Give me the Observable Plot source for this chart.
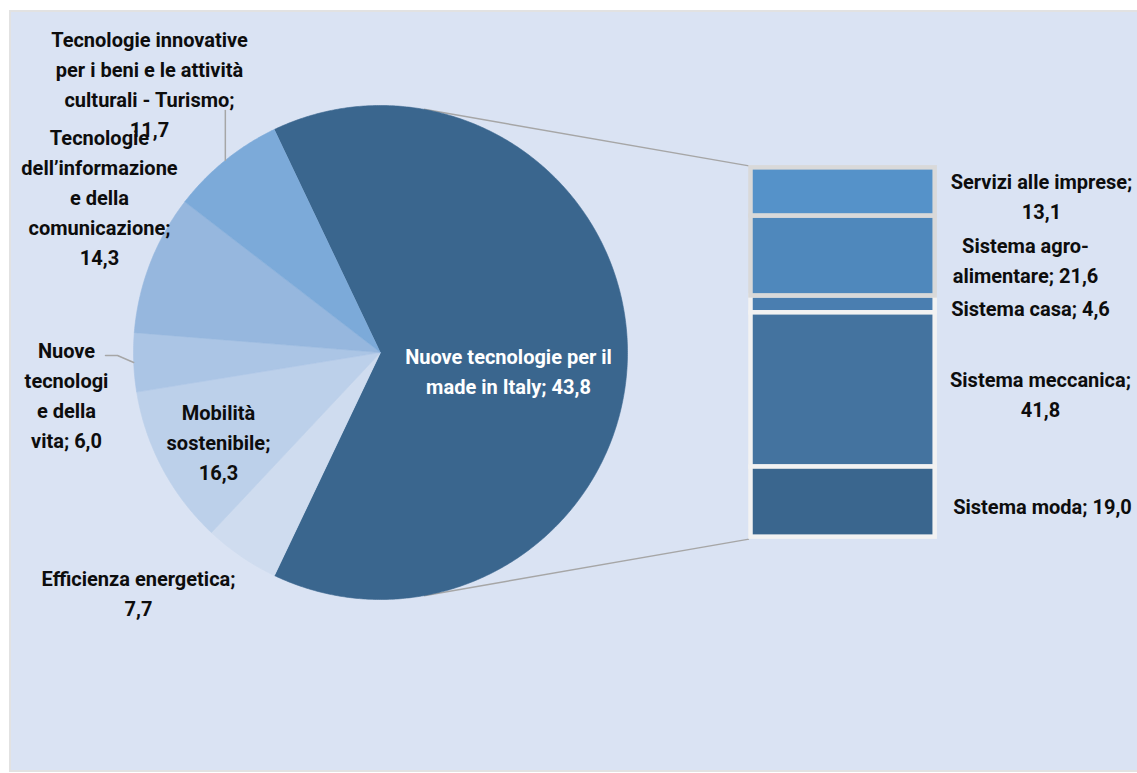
<!DOCTYPE html>
<html>
<head>
<meta charset="utf-8">
<script src="https://cdn.jsdelivr.net/npm/d3@7"></script>
<script src="https://cdn.jsdelivr.net/npm/@observablehq/plot@0.6"></script>
<style>
  html, body { margin: 0; padding: 0; background: #ffffff; }
  #wrap { position: relative; width: 1137px; height: 773px; overflow: hidden; }
  #panel { position: absolute; left: 9px; top: 10px; width: 1130px; height: 762px; background: #dae3f3;
           border-left: 2px solid #e2e2e2; border-top: 2px solid #e2e2e2; border-bottom: 2px solid #e2e2e2; box-sizing: border-box; }
  #chart { position: absolute; left: 0; top: 0; }
  #chart svg { background: transparent; }
</style>
</head>
<body>
<div id="wrap"><div id="panel"></div><div id="chart"></div></div>
<script>
// ---------- data ----------
const pieCategories = [
  "Nuove tecnologie per il made in Italy",
  "Efficienza energetica",
  "Mobilità sostenibile",
  "Nuove tecnologie della vita",
  "Tecnologie dell’informazione e della comunicazione",
  "Tecnologie innovative per i beni e le attività culturali - Turismo"
];
const pieValues = [43.8, 7.7, 16.3, 6.0, 14.3, 11.7];
// label text (wrapped as in the original), value appended
const pieLabelWrap = [
  "Nuove tecnologie per il\nmade in Italy; ",
  "Efficienza energetica;\n",
  "Mobilità\nsostenibile;\n",
  "Nuove\ntecnologi\ne della\nvita; ",
  "Tecnologie\ndell’informazione\ne della\ncomunicazione;\n",
  "Tecnologie innovative\nper i beni e le attività\nculturali - Turismo;\n"
];
const barCategories = ["Servizi alle imprese", "Sistema agro-alimentare", "Sistema casa", "Sistema meccanica", "Sistema moda"];
const barValues = [13.1, 21.6, 4.6, 41.8, 19.0];
const barLabelWrap = [
  "Servizi alle imprese;\n",
  "Sistema agro-\nalimentare; ",
  "Sistema casa; ",
  "Sistema meccanica;\n",
  "Sistema moda; "
];

// ---------- styles / layout ----------
const pieColors = ["#3a668e", "#cfdcef", "#bcd0ea", "#abc5e5", "#96b7de", "#7caad9"];
const barColors = ["#5592c9", "#4f88bc", "#4a7eb0", "#44739f", "#3a668e"];
const W = 1137, H = 773;
const R = 247, CX = 380, CY = 352;           // pie radius and centre (px)
const toX = px => (px - CX) / R, toY = py => (CY - py) / R;
const barX1 = 1.5, barX2 = 2.2457, barHalf = 0.7475;  // bar geometry (pie-radius units)
// label anchor positions (px) for the pie labels
const pieLabelPos = [[508, 369], [138, 591], [218, 440], [66, 393], [99, 195], [149, 82]];
const barLabelX = [1041, 1025, 1030, 1040, 1042];
const FONT = "Roboto, 'Noto Sans', sans-serif";
const FS = 20;

const fmt = v => v.toFixed(1).replace(".", ",");

// ---------- pie geometry from data ----------
const barTotal = d3.sum(barValues);
const weights = pieValues.map((v, i) => i === 0 ? barTotal : v);
const total = d3.sum(weights);
let start = 90 - (weights[0] / total * 360) / 2;
const rad = a => a * Math.PI / 180;
const polys = [], mids = [];
pieCategories.forEach((cat, i) => {
  const span = weights[i] / total * 360;
  const n = Math.max(2, Math.ceil(span / 0.5));
  polys.push({cat, x: 0, y: 0});
  for (let k = 0; k <= n; k++) {
    const a = rad(start + span * k / n);
    polys.push({cat, x: Math.sin(a), y: Math.cos(a)});
  }
  mids.push(start + span / 2);
  start += span;
});

// ---------- bar geometry from data ----------
const k = (2 * barHalf) / barTotal;
let acc = 0;
const barRows = barCategories.map((cat, i) => {
  const y1 = barHalf - acc * k;
  acc += barValues[i];
  const y2 = barHalf - acc * k;
  return {cat, i, y1, y2, x1: barX1, x2: barX2,
          label: barLabelWrap[i] + fmt(barValues[i]), lx: toX(barLabelX[i]), ly: (y1 + y2) / 2 - 2 / R};
});

// tangent lines from bar corners to the pie circle
function tangent(px, py, upper) {
  const d = Math.hypot(px, py), phi = Math.atan2(py, px), t = Math.acos(1 / d);
  const a = upper ? phi + t : phi - t;
  return {x: Math.cos(a), y: Math.sin(a)};
}
const tTop = tangent(barX1, barHalf, true), tBot = tangent(barX1, -barHalf, false);
const connectors = [
  {x1: tTop.x, y1: tTop.y, x2: barX1 - 2 / R, y2: barHalf + 2 / R},
  {x1: tBot.x, y1: tBot.y, x2: barX1 - 2 / R, y2: -barHalf - 2 / R}
];

// pie labels
const pieLabels = pieCategories.map((cat, i) => ({
  cat, text: pieLabelWrap[i] + fmt(pieValues[i]),
  x: toX(pieLabelPos[i][0]), y: toY(pieLabelPos[i][1]), white: i === 0
}));

// leader lines (to slice mid-angle on the perimeter)
const pm = i => ({x: Math.sin(rad(mids[i])), y: Math.cos(rad(mids[i]))});
const leaders = [
  {id: "tur", x: pm(5).x, y: toY(110)}, {id: "tur", ...pm(5)},
  {id: "vita", x: toX(105), y: toY(355)}, {id: "vita", x: toX(117), y: toY(355)}, {id: "vita", ...pm(3)}
];

const chart = Plot.plot({
  width: W, height: H,
  margin: 0,
  x: {domain: [toX(0), toX(W)], axis: null},
  y: {domain: [toY(H), toY(0)], axis: null},
  color: {domain: [...pieCategories, ...barCategories], range: [...pieColors, ...barColors]},
  style: {background: "transparent", overflow: "visible"},
  marks: [
    Plot.link(connectors, {x1: "x1", y1: "y1", x2: "x2", y2: "y2", stroke: "#a6a6a6", strokeWidth: 1.5}),
    Plot.line(polys, {x: "x", y: "y", z: "cat", fill: "cat", stroke: "cat", strokeWidth: 0.6, curve: "linear"}),
    Plot.line(leaders, {x: "x", y: "y", z: "id", stroke: "#a6a6a6", strokeWidth: 1.5}),
    Plot.rect(barRows.filter(d => d.i >= 2), {x1: "x1", x2: "x2", y1: "y1", y2: "y2", fill: "cat", stroke: "#f2f2f2", strokeWidth: 4.5}),
    Plot.rect(barRows.filter(d => d.i < 2), {x1: "x1", x2: "x2", y1: "y1", y2: "y2", fill: "cat", stroke: "#d9d9d9", strokeWidth: 4.5}),
    Plot.text(pieLabels, {x: "x", y: "y", text: "text", fill: d => d.white ? "#ffffff" : "#0d0d0d",
      fontSize: FS, fontWeight: "bold", fontFamily: FONT, lineHeight: 30 / FS, textAnchor: "middle"}),
    Plot.text(barRows, {x: "lx", y: "ly", text: "label", fill: "#0d0d0d",
      fontSize: FS, fontWeight: "bold", fontFamily: FONT, lineHeight: 30 / FS, textAnchor: "middle"})
  ]
});
document.getElementById("chart").appendChild(chart);
</script>
</body>
</html>
